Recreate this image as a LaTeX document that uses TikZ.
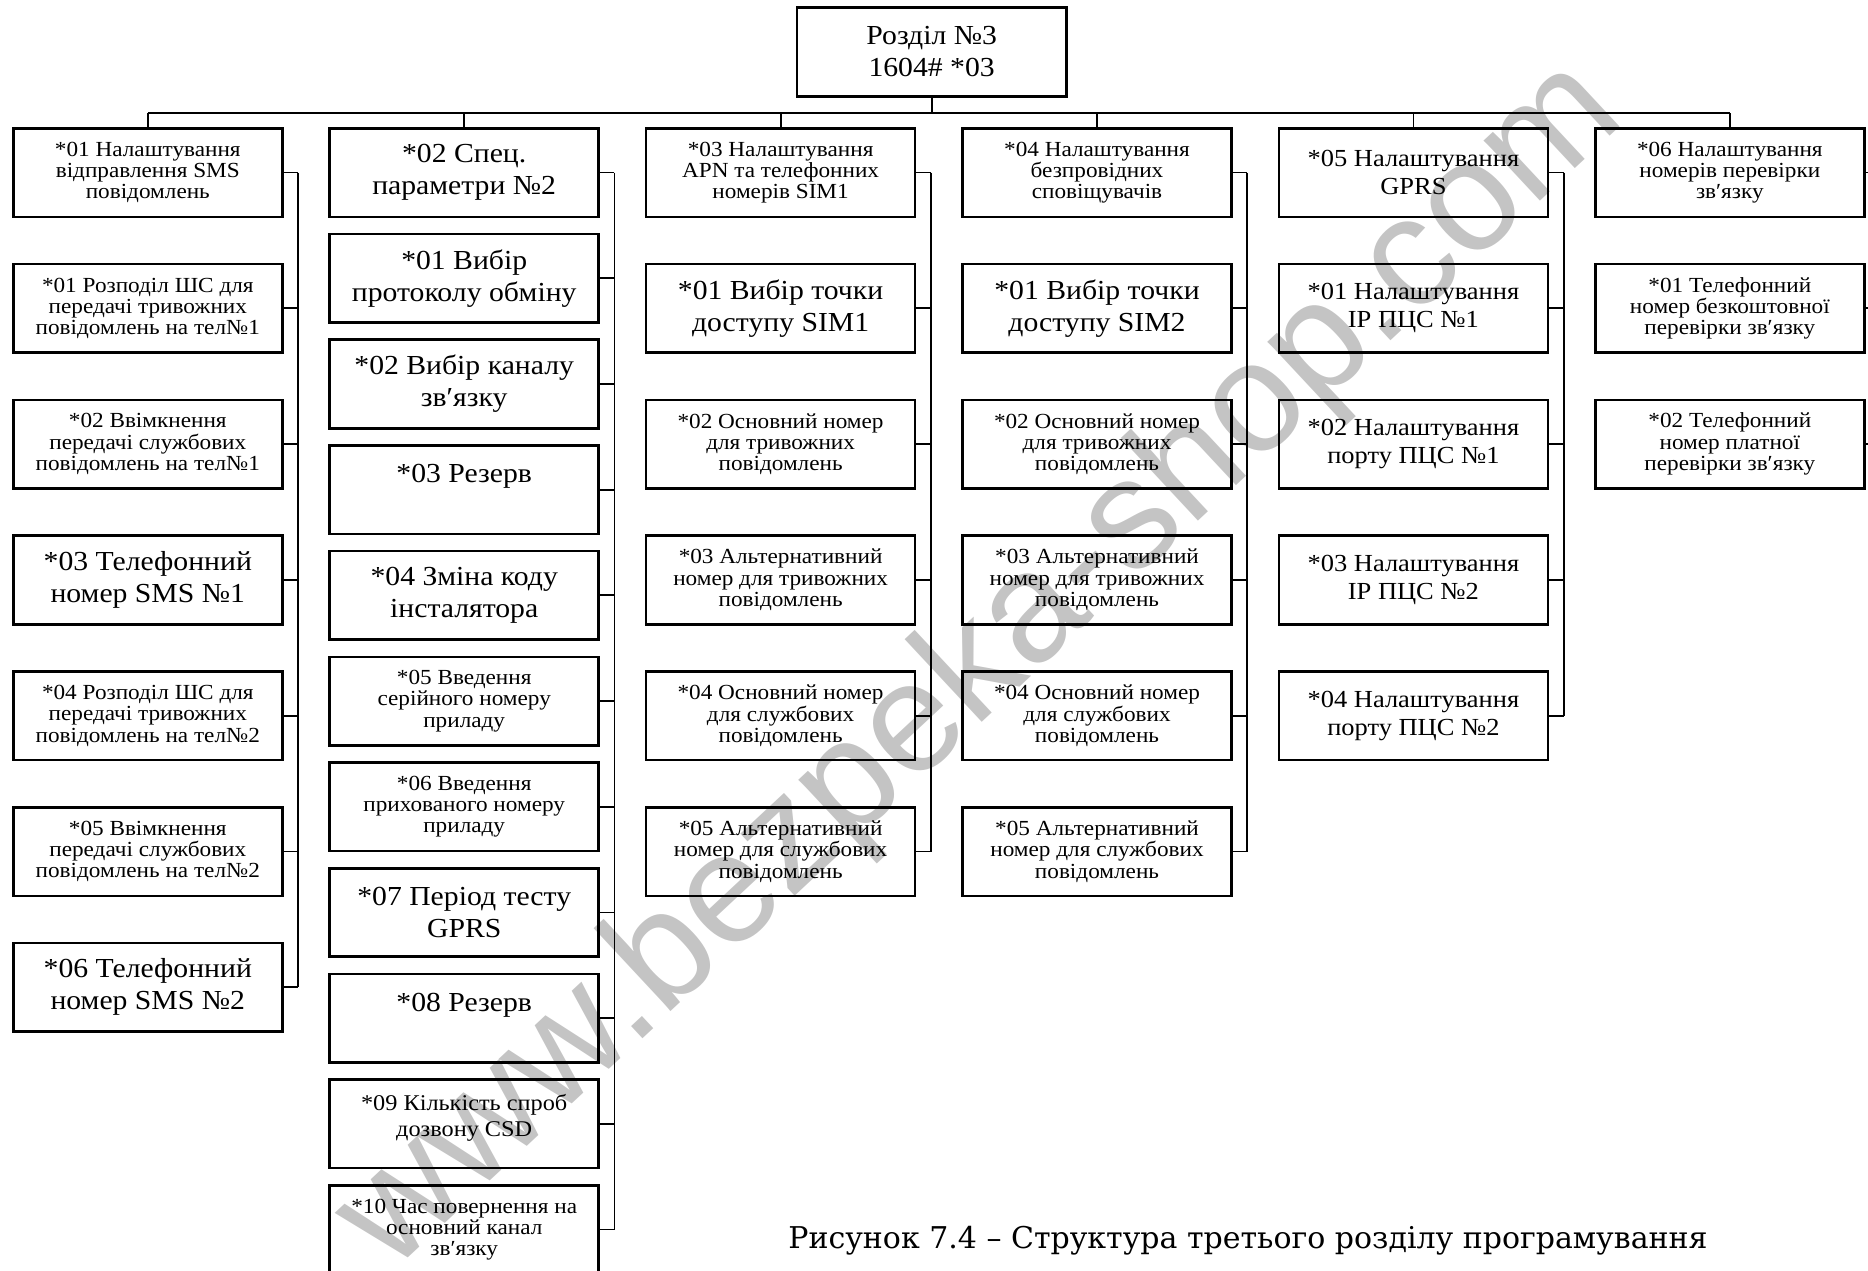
\documentclass[tikz,border=0pt]{standalone}
\usepackage{fontspec}
\setmainfont{Liberation Serif}[FakeStretch=1.08]
\newfontfamily\capfont{DejaVu Serif}
\newfontfamily\wmfont{Liberation Sans}
\begin{document}
\begin{tikzpicture}[x=1pt,y=-1pt,
  bx/.style={draw, line width=2.6pt, minimum width=269pt, minimum height=88.5pt,
             inner sep=0pt, outer sep=0pt, align=center, anchor=north west},
  sm/.style={font=\fontsize{21.5}{21.3}\selectfont},
  ms/.style={font=\fontsize{22.5}{26.7}\selectfont},
  md/.style={font=\fontsize{24.5}{28}\selectfont},
  lg/.style={font=\fontsize{27.5}{32}\selectfont},
  ln/.style={line width=1.8pt},
  wm/.style={rotate=43, text=black!23, font=\wmfont\fontsize{156}{156}\selectfont}]
\useasboundingbox (0,0) rectangle (1868,1271);
\begin{scope}
\clip (0,0) rectangle (1868,1271);
% watermark
\node[wm] (wmark) at (982,667) {www.bezpeka-shop.com};
% root
\node[bx, lg, minimum width=269.5pt, minimum height=89pt] (root) at (796.9,7.3) {Розділ №3\\1604\# *03};
% column 1
\node[bx,sm] (c1h) at (13.3,128.3) {*01 Налаштування\\відправлення SMS\\повідомлень};
\node[bx,sm] (c1a) at (13.3,264.1) {*01 Розподіл ШС для\\передачі тривожних\\повідомлень на тел№1};
\node[bx,sm] (c1b) at (13.3,399.9) {*02 Ввімкнення\\передачі службових\\повідомлень на тел№1};
\node[bx,lg] (c1c) at (13.3,535.7) {*03 Телефонний\\номер SMS №1};
\node[bx,sm] (c1d) at (13.3,671.5) {*04 Розподіл ШС для\\передачі тривожних\\повідомлень на тел№2};
\node[bx,sm] (c1e) at (13.3,807.3) {*05 Ввімкнення\\передачі службових\\повідомлень на тел№2};
\node[bx,lg] (c1f) at (13.3,943.1) {*06 Телефонний\\номер SMS №2};
% column 2
\node[bx,lg] (c2h) at (329.7,128.3) {*02 Спец.\\параметри №2};
\node[bx,lg] (c2a) at (329.7,234.0) {*01 Вибір\\протоколу обміну};
\node[bx,lg] (c2b) at (329.7,339.7) {*02 Вибір каналу\\зв′язку};
\node[bx,lg] (c2c) at (329.7,445.4) {*03 Резерв\\~};
\node[bx,lg] (c2d) at (329.7,551.1) {*04 Зміна коду\\інсталятора};
\node[bx,sm] (c2e) at (329.7,656.8) {*05 Введення\\серійного номеру\\приладу};
\node[bx,sm] (c2f) at (329.7,762.5) {*06 Введення\\прихованого номеру\\приладу};
\node[bx,lg] (c2g) at (329.7,868.2) {*07 Період тесту\\GPRS};
\node[bx,lg] (c2i) at (329.7,973.9) {*08 Резерв\\~};
\node[bx] (c2j) at (329.7,1079.6) {};
\node[ms, align=center] (c2jt) at ([yshift=6pt]c2j.center) {*09 Кількість спроб\\дозвону CSD};
\node[bx,sm] (c2k) at (329.7,1185.3) {*10 Час повернення на\\основний канал\\зв′язку};
% column 3
\node[bx,sm] (c3h) at (646.1,128.3) {*03 Налаштування\\APN та телефонних\\номерів SIM1};
\node[bx,lg] (c3a) at (646.1,264.1) {*01 Вибір точки\\доступу SIM1};
\node[bx,sm] (c3b) at (646.1,399.9) {*02 Основний номер\\для тривожних\\повідомлень};
\node[bx,sm] (c3c) at (646.1,535.7) {*03 Альтернативний\\номер для тривожних\\повідомлень};
\node[bx,sm] (c3d) at (646.1,671.5) {*04 Основний номер\\для службових\\повідомлень};
\node[bx,sm] (c3e) at (646.1,807.3) {*05 Альтернативний\\номер для службових\\повідомлень};
% column 4
\node[bx,sm] (c4h) at (962.5,128.3) {*04 Налаштування\\безпровідних\\сповіщувачів};
\node[bx,lg] (c4a) at (962.5,264.1) {*01 Вибір точки\\доступу SIM2};
\node[bx,sm] (c4b) at (962.5,399.9) {*02 Основний номер\\для тривожних\\повідомлень};
\node[bx,sm] (c4c) at (962.5,535.7) {*03 Альтернативний\\номер для тривожних\\повідомлень};
\node[bx,sm] (c4d) at (962.5,671.5) {*04 Основний номер\\для службових\\повідомлень};
\node[bx,sm] (c4e) at (962.5,807.3) {*05 Альтернативний\\номер для службових\\повідомлень};
% column 5
\node[bx,md] (c5h) at (1278.9,128.3) {*05 Налаштування\\GPRS};
\node[bx,md] (c5a) at (1278.9,264.1) {*01 Налаштування\\IP ПЦС №1};
\node[bx,md] (c5b) at (1278.9,399.9) {*02 Налаштування\\порту ПЦС №1};
\node[bx,md] (c5c) at (1278.9,535.7) {*03 Налаштування\\IP ПЦС №2};
\node[bx,md] (c5d) at (1278.9,671.5) {*04 Налаштування\\порту ПЦС №2};
% column 6
\node[bx,sm] (c6h) at (1595.3,128.3) {*06 Налаштування\\номерів перевірки\\зв′язку};
\node[bx,sm] (c6a) at (1595.3,264.1) {*01 Телефонний\\номер безкоштовної\\перевірки зв′язку};
\node[bx,sm] (c6b) at (1595.3,399.9) {*02 Телефонний\\номер платної\\перевірки зв′язку};
% spine coordinates
\coordinate (bus) at (0,113);
\coordinate (s1) at (298,0);
\coordinate (s2) at (614.4,0);
\coordinate (s3) at (930.8,0);
\coordinate (s4) at (1247.2,0);
\coordinate (s5) at (1563.6,0);
\coordinate (s6) at (1880,0);
% top bus
\draw[ln] (root.south) -- (root.south |- bus);
\draw[ln] (c1h.north |- bus) -- (c6h.north |- bus);
\foreach \c in {c1h,c2h,c3h,c4h,c5h,c6h}{\draw[ln] (\c.north) -- (\c.north |- bus);}
% spines
\draw[ln] (c1h.east -| s1) -- (c1f.east -| s1);
\foreach \c in {c1h,c1a,c1b,c1c,c1d,c1e,c1f}{\draw[ln] (\c.east) -- (\c.east -| s1);}
\draw[ln] (c2h.east -| s2) -- (c2k.east -| s2);
\foreach \c in {c2h,c2a,c2b,c2c,c2d,c2e,c2f,c2g,c2i,c2j,c2k}{\draw[ln] (\c.east) -- (\c.east -| s2);}
\draw[ln] (c3h.east -| s3) -- (c3e.east -| s3);
\foreach \c in {c3h,c3a,c3b,c3c,c3d,c3e}{\draw[ln] (\c.east) -- (\c.east -| s3);}
\draw[ln] (c4h.east -| s4) -- (c4e.east -| s4);
\foreach \c in {c4h,c4a,c4b,c4c,c4d,c4e}{\draw[ln] (\c.east) -- (\c.east -| s4);}
\draw[ln] (c5h.east -| s5) -- (c5d.east -| s5);
\foreach \c in {c5h,c5a,c5b,c5c,c5d}{\draw[ln] (\c.east) -- (\c.east -| s5);}
\draw[ln] (c6h.east -| s6) -- (c6b.east -| s6);
\foreach \c in {c6h,c6a,c6b}{\draw[ln] (\c.east) -- (\c.east -| s6);}
% caption
\node[font=\capfont\fontsize{30}{34}\selectfont] (cap) at (1248,1241) {Рисунок 7.4 – Структура третього розділу програмування};
\end{scope}
\end{tikzpicture}
\end{document}
